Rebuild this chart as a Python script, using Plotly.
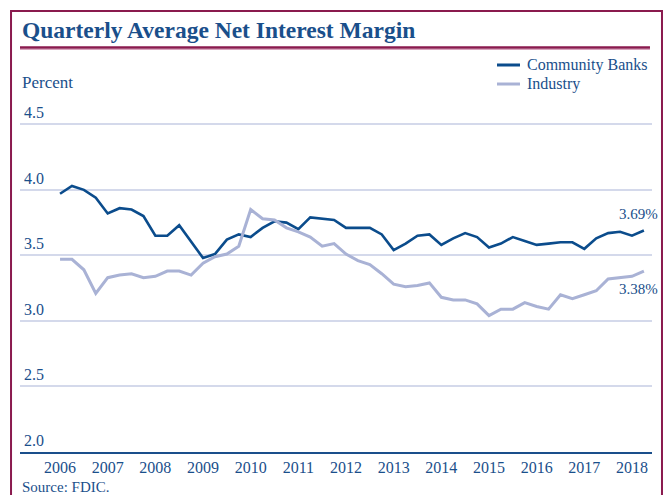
import plotly.graph_objects as go

years = list(range(2006, 2019))
quarters = [2006 + i * 0.25 for i in range(50)]

community_banks = [3.97, 4.03, 4.00, 3.94, 3.82, 3.86, 3.85, 3.80, 3.65, 3.65,
                   3.73, 3.60, 3.48, 3.51, 3.62, 3.66, 3.64, 3.71, 3.76, 3.75,
                   3.70, 3.79, 3.78, 3.77, 3.71, 3.71, 3.71, 3.66, 3.54, 3.59,
                   3.65, 3.66, 3.58, 3.63, 3.67, 3.64, 3.56, 3.59, 3.64, 3.61,
                   3.58, 3.59, 3.60, 3.60, 3.55, 3.63, 3.67, 3.68, 3.65, 3.69]
industry = [3.47, 3.47, 3.39, 3.21, 3.33, 3.35, 3.36, 3.33, 3.34, 3.38,
            3.38, 3.35, 3.44, 3.49, 3.51, 3.57, 3.85, 3.78, 3.77, 3.71,
            3.68, 3.64, 3.57, 3.59, 3.51, 3.46, 3.43, 3.36, 3.28, 3.26,
            3.27, 3.29, 3.18, 3.16, 3.16, 3.13, 3.04, 3.09, 3.09, 3.14,
            3.11, 3.09, 3.20, 3.17, 3.20, 3.23, 3.32, 3.33, 3.34, 3.38]
y_ticks = [2.0, 2.5, 3.0, 3.5, 4.0, 4.5]
series_names = ["Community Banks", "Industry"]

BLUE = "#0b4c8c"
TEXT = "#1a4f8b"
LAV = "#a9b2d5"
MAROON = "#8a1a4e"
SERIF = "Liberation Serif"

fig = go.Figure()
fig.add_trace(go.Scatter(x=quarters, y=community_banks, mode="lines", name=series_names[0],
                         line=dict(color=BLUE, width=2.6)))
fig.add_trace(go.Scatter(x=quarters, y=industry, mode="lines", name=series_names[1],
                         line=dict(color=LAV, width=3)))

fig.update_layout(
    width=667, height=495,
    margin=dict(l=20, r=15, t=123, b=43),
    plot_bgcolor="white", paper_bgcolor="white",
    font=dict(family=SERIF, color=TEXT, size=15),
    showlegend=False,
    xaxis=dict(range=[2005.16, 2018.42], tickvals=years, ticktext=[str(y) for y in years],
               showgrid=False, zeroline=False, showline=True, linecolor=TEXT, linewidth=2,
               ticks="", tickfont=dict(family=SERIF, size=16, color=TEXT)),
    yaxis=dict(range=[2.0, 4.51], tickvals=y_ticks, showticklabels=False,
               showgrid=True, gridcolor="#d4d9eb", gridwidth=2, zeroline=False, ticks=""),
)

# y tick labels above gridlines
for v in y_ticks:
    fig.add_annotation(text=f"{v:.1f}", xref="paper", yref="y", x=0.003, y=v,
                       xanchor="left", yanchor="bottom", yshift=1, showarrow=False,
                       font=dict(family=SERIF, size=16, color=TEXT))

# frame
fig.add_shape(type="rect", xref="paper", yref="paper", x0=-0.0142, x1=1.0158, y0=-0.16, y1=1.3404,
              line=dict(color=MAROON, width=2), fillcolor="rgba(0,0,0,0)", layer="below")
# title underline
fig.add_shape(type="line", xref="paper", yref="paper", x0=0, x1=0.9968, y0=1.2295, y1=1.2295,
              line=dict(color=MAROON, width=2.5))
fig.add_shape(type="line", xref="paper", yref="paper", x0=0, x1=0.9968, y0=1.2234, y1=1.2234,
              line=dict(color="#d9a3bd", width=1))

fig.add_annotation(text="<b>Quarterly Average Net Interest Margin</b>", xref="paper", yref="paper",
                   x=0, y=1.2827, xanchor="left", yanchor="middle", showarrow=False,
                   font=dict(family=SERIF, size=23.5, color=TEXT))
fig.add_annotation(text="Percent", xref="paper", yref="paper", x=0, y=1.1246,
                   xanchor="left", yanchor="middle", showarrow=False,
                   font=dict(family=SERIF, size=17, color=TEXT))
fig.add_annotation(text="Source: FDIC.", xref="paper", yref="paper", x=0, y=-0.1064,
                   xanchor="left", yanchor="middle", showarrow=False,
                   font=dict(family=SERIF, size=15, color=TEXT))

# legend (manual, to match the compact spacing)
for name, color, ly in zip(series_names, [BLUE, LAV], [1.1763, 1.1185]):
    fig.add_shape(type="line", xref="paper", yref="paper", x0=0.7547, x1=0.7911, y0=ly, y1=ly,
                  line=dict(color=color, width=3))
    fig.add_annotation(text=name, xref="paper", yref="paper", x=0.799, y=ly,
                       xanchor="left", yanchor="middle", showarrow=False,
                       font=dict(family=SERIF, size=16, color=TEXT))

fig.add_annotation(text=f"{community_banks[-1]:.2f}%", x=quarters[-1], y=community_banks[-1],
                   xanchor="center", yanchor="bottom", yshift=6, xshift=-5, showarrow=False,
                   font=dict(family=SERIF, size=15, color=TEXT))
fig.add_annotation(text=f"{industry[-1]:.2f}%", x=quarters[-1], y=industry[-1],
                   xanchor="center", yanchor="top", yshift=-8, xshift=-5, showarrow=False,
                   font=dict(family=SERIF, size=15, color=TEXT))

fig.write_html("out.html")
